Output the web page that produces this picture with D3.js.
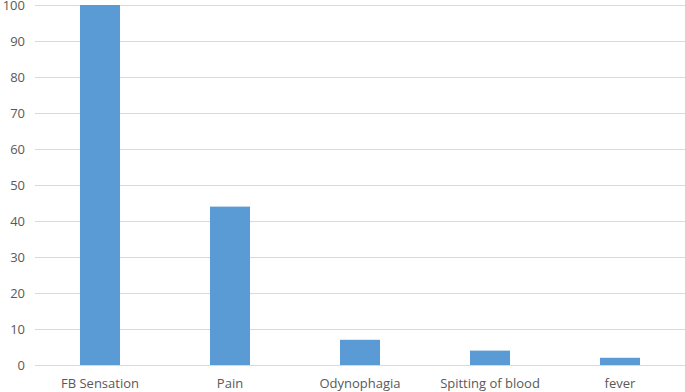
<!DOCTYPE html>
<html lang="en">
<head>
<meta charset="UTF-8">
<title>Symptoms</title>
<style>
    body { margin: 0; background: #fff; }
    text { font-family: "Open Sans", "Noto Sans", sans-serif; fill: #595959; }
</style>
<script src="https://d3js.org/d3.v7.min.js"></script>
</head>
<body>
<script>
// data
const categories = ["FB Sensation", "Pain", "Odynophagia", "Spitting of blood", "fever"];
const values = [100, 44, 7, 4, 2];
const yTicks = [0, 10, 20, 30, 40, 50, 60, 70, 80, 90, 100];

const width = 685, height = 392;
const margin = {top: 5, right: 0, bottom: 27, left: 35};

const svg = d3.select("body").append("svg")
    .attr("width", width)
    .attr("height", height);

const x = d3.scaleBand()
    .domain(categories)
    .range([margin.left, width - margin.right])
    .paddingInner(0.692)
    .paddingOuter(0.346);

const y = d3.scaleLinear()
    .domain([0, 100])
    .range([height - margin.bottom, margin.top]);

// gridlines
svg.append("g")
    .selectAll("line")
    .data(yTicks)
    .join("line")
    .attr("x1", margin.left)
    .attr("x2", width - margin.right)
    .attr("y1", d => y(d) + 0.5)
    .attr("y2", d => y(d) + 0.5)
    .attr("stroke", "#d9d9d9")
    .attr("stroke-width", 1);

// y labels
svg.append("g")
    .selectAll("text")
    .data(yTicks)
    .join("text")
    .attr("x", 25)
    .attr("y", d => y(d))
    .attr("dy", "0.35em")
    .attr("text-anchor", "end")
    .style("font-size", "13px")
    .text(d => d);

// bars
svg.append("g")
    .selectAll("rect")
    .data(values)
    .join("rect")
    .attr("x", (d, i) => x(categories[i]))
    .attr("width", x.bandwidth())
    .attr("y", d => y(d))
    .attr("height", d => y(0) - y(d))
    .attr("fill", "#5b9bd5");

// x labels
svg.append("g")
    .selectAll("text")
    .data(categories)
    .join("text")
    .attr("x", d => x(d) + x.bandwidth() / 2)
    .attr("y", 388)
    .attr("text-anchor", "middle")
    .style("font-size", "13px")
    .text(d => d);
</script>
</body>
</html>
